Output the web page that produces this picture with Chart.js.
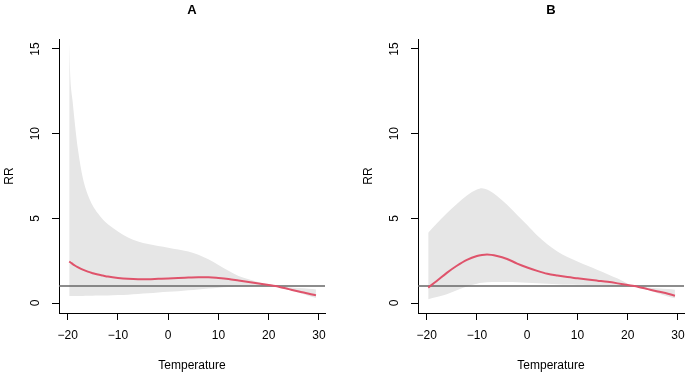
<!DOCTYPE html>
<html>
<head>
<meta charset="utf-8">
<script src="https://cdn.jsdelivr.net/npm/chart.js@4.4.1/dist/chart.umd.min.js"></script>
<style>
  html, body { margin: 0; padding: 0; background: #fff; overflow: hidden; }
  #wrap { position: relative; width: 685px; height: 374px; overflow: hidden; }
  .panel { position: absolute; top: 0; height: 374px; }
</style>
</head>
<body>
<div id="wrap">
  <div class="panel" style="left:0px;width:342px"><canvas id="chartA"></canvas></div>
  <div class="panel" style="left:359px;width:345px"><canvas id="chartB"></canvas></div>
</div>
<script>
// axis ticks
var xTicks = [-20, -10, 0, 10, 20, 30];
var yTicks = [0, 5, 10, 15];

// panel A: exposure-response with 95% CI
var tempsA = [-19.7, -19.5, -19, -18.5, -18, -17, -16, -15, -14, -13, -12, -10, -8, -6, -4, -2, 0, 2, 4, 6, 8, 10, 12, 14, 16, 18, 20, 21.3, 22, 24, 26, 28, 29.4];
var rrA    = [2.45, 2.41, 2.3, 2.2, 2.12, 1.97, 1.85, 1.76, 1.68, 1.62, 1.56, 1.48, 1.43, 1.41, 1.41, 1.43, 1.45, 1.48, 1.5, 1.52, 1.52, 1.48, 1.42, 1.33, 1.24, 1.15, 1.06, 1.0, 0.96, 0.82, 0.68, 0.55, 0.45];
var upperA = [15.35, 13.45, 11.85, 10.4, 9.15, 7.4, 6.4, 5.75, 5.3, 4.93, 4.65, 4.22, 3.87, 3.63, 3.48, 3.37, 3.27, 3.16, 3.04, 2.85, 2.58, 2.25, 1.9, 1.6, 1.4, 1.22, 1.06, 1.0, 0.97, 0.93, 0.88, 0.84, 0.8];
var lowerA = [0.41, 0.41, 0.41, 0.42, 0.42, 0.42, 0.43, 0.43, 0.44, 0.44, 0.45, 0.47, 0.49, 0.53, 0.57, 0.62, 0.66, 0.7, 0.75, 0.8, 0.85, 0.9, 0.94, 0.97, 0.99, 1.0, 1.0, 1.0, 0.95, 0.78, 0.6, 0.42, 0.3];

// panel B
var tempsB = [-19.7, -18, -16, -14, -12, -10, -9, -8, -6, -4, -2, 0, 2, 4, 6, 8, 10, 12, 14, 16, 18, 20, 21.3, 22, 24, 26, 28, 29.4];
var rrB    = [0.91, 1.3, 1.78, 2.2, 2.55, 2.78, 2.84, 2.87, 2.78, 2.6, 2.33, 2.1, 1.9, 1.73, 1.62, 1.53, 1.46, 1.39, 1.32, 1.25, 1.16, 1.06, 1.0, 0.96, 0.82, 0.68, 0.55, 0.43];
var upperB = [4.15, 4.7, 5.3, 5.85, 6.35, 6.7, 6.78, 6.7, 6.32, 5.8, 5.2, 4.6, 3.98, 3.47, 3.04, 2.72, 2.45, 2.2, 1.95, 1.7, 1.44, 1.14, 1.0, 0.97, 0.92, 0.87, 0.82, 0.78];
var lowerB = [0.22, 0.35, 0.52, 0.75, 0.98, 1.14, 1.19, 1.22, 1.24, 1.24, 1.22, 1.19, 1.16, 1.13, 1.11, 1.09, 1.08, 1.07, 1.06, 1.04, 1.02, 1.01, 1.0, 0.95, 0.78, 0.58, 0.38, 0.28];

// reference line RR = 1
var refX = [-25, 35];
var refY = [1, 1];

Chart.defaults.font.family = "'Liberation Sans', Arial, Helvetica, sans-serif";
Chart.defaults.font.size = 12;
Chart.defaults.color = '#000';

function pts(xs, ys) {
    return xs.map(function (x, i) { return { x: x, y: ys[i] }; });
}

function minusLabel(v) {
    return v < 0 ? '\u2212' + Math.abs(v) : String(v);
}

// R draws y tick labels parallel to the axis
var rotatedYLabels = {
    id: 'rotatedYLabels',
    afterDraw: function (chart) {
        var s = chart.scales.y;
        var ctx = chart.ctx;
        ctx.save();
        ctx.fillStyle = '#000';
        ctx.font = "12px 'Liberation Sans', Arial, sans-serif";
        ctx.textAlign = 'center';
        ctx.textBaseline = 'middle';
        s.ticks.forEach(function (t) {
            var py = s.getPixelForValue(t.value);
            ctx.save();
            ctx.translate(chart.chartArea.left - 23, py);
            ctx.rotate(-Math.PI / 2);
            ctx.fillText(minusLabel(t.value), 0, 0);
            ctx.restore();
        });
        ctx.restore();
    }
};

function makePanel(id, title, temps, rr, upper, lower, padRight) {
    var config = {
        type: 'line',
        data: {
            datasets: [
                {
                    data: pts(temps, rr),
                    borderColor: '#DF536B',
                    borderWidth: 2,
                    pointRadius: 0,
                    cubicInterpolationMode: 'monotone',
                    fill: false
                },
                {
                    data: pts(refX, refY),
                    borderColor: '#666666',
                    borderWidth: 1.5,
                    pointRadius: 0,
                    fill: false
                },
                {
                    data: pts(temps, upper),
                    borderWidth: 0,
                    borderColor: 'rgba(0,0,0,0)',
                    backgroundColor: '#e6e6e6',
                    pointRadius: 0,
                    cubicInterpolationMode: 'monotone',
                    fill: '+1'
                },
                {
                    data: pts(temps, lower),
                    borderWidth: 0,
                    borderColor: 'rgba(0,0,0,0)',
                    pointRadius: 0,
                    cubicInterpolationMode: 'monotone',
                    fill: false
                }
            ]
        },
        options: {
            responsive: true,
            maintainAspectRatio: false,
            animation: false,
            devicePixelRatio: 1,
            layout: { padding: { left: 0, right: padRight, top: 0, bottom: 0 } },
            plugins: {
                legend: { display: false },
                tooltip: { enabled: false },
                title: {
                    display: true,
                    text: title,
                    fullSize: false,
                    color: '#000',
                    font: { size: 13, weight: 'bold', lineHeight: 1.2 },
                    padding: { top: 2.2, bottom: 21.2 }
                }
            },
            scales: {
                x: {
                    type: 'linear',
                    min: -21.73,
                    max: 31.2,
                    afterBuildTicks: function (s) { s.ticks = xTicks.map(function (v) { return { value: v }; }); },
                    afterFit: function (s) { s.height = 61; },
                    border: { display: true, color: '#000', width: 1 },
                    grid: { drawOnChartArea: false, drawTicks: true, tickLength: 7, color: '#000' },
                    ticks: {
                        padding: 8,
                        maxRotation: 0,
                        autoSkip: false,
                        color: '#000',
                        callback: function (v) { return minusLabel(v); }
                    },
                    title: {
                        display: true,
                        text: 'Temperature',
                        color: '#000',
                        font: { size: 12, lineHeight: 1.2 },
                        padding: { top: 0, bottom: 1.1 }
                    }
                },
                y: {
                    type: 'linear',
                    min: -0.59,
                    max: 15.59,
                    afterBuildTicks: function (s) { s.ticks = yTicks.map(function (v) { return { value: v }; }); },
                    afterFit: function (s) { s.width = 59; },
                    border: { display: true, color: '#000', width: 1 },
                    grid: { drawOnChartArea: false, drawTicks: true, tickLength: 7, color: '#000' },
                    ticks: { display: false },
                    title: {
                        display: true,
                        text: 'RR',
                        color: '#000',
                        font: { size: 12, lineHeight: 1.2 },
                        padding: { top: 2.8, bottom: 0 }
                    }
                }
            }
        },
        plugins: [rotatedYLabels]
    };
    return new Chart(document.getElementById(id), config);
}

makePanel('chartA', 'A', tempsA, rrA, upperA, lowerA, 17);
makePanel('chartB', 'B', tempsB, rrB, upperB, lowerB, 20);
</script>
</body>
</html>
